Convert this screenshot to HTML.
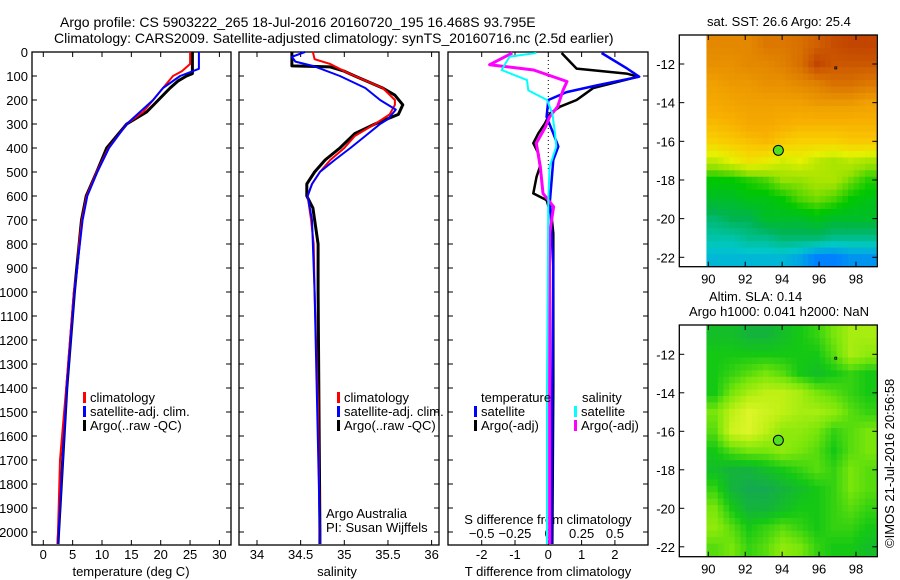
<!DOCTYPE html>
<html><head><meta charset="utf-8">
<style>
html,body{margin:0;padding:0;background:#fff;}
svg{display:block;font-family:"Liberation Sans",sans-serif;}
text{font-size:13px;fill:#000;}
</style></head>
<body>
<svg id="fig" width="900" height="580" viewBox="0 0 900 580" xmlns="http://www.w3.org/2000/svg">
<text x="60" y="27" style="font-size:14px">Argo profile: CS 5903222_265 18-Jul-2016 20160720_195 16.468S 93.795E</text>
<text x="54" y="43" style="font-size:14px">Climatology: CARS2009. Satellite-adjusted climatology: synTS_20160716.nc (2.5d earlier)</text>
<text x="707" y="26">sat. SST: 26.6 Argo: 25.4</text>
<text x="709" y="301">Altim. SLA: 0.14</text>
<text x="689" y="316">Argo h1000: 0.041 h2000: NaN</text>
<text transform="translate(894,548) rotate(-90)">©IMOS 21-Jul-2016 20:56:58</text>
<g id="g"></g>
</svg>
<script>
// ---------- data ----------
const tempDepth = [0,50,80,100,150,200,250,300,400,500,600,700,800,900,1000,1400,1700,2000,2050];
const tempClim  = [25.0,25.0,23.6,22.1,20.4,18.7,17.0,14.2,11.1,9.1,7.4,6.6,6.1,5.8,5.2,3.9,2.85,2.5,2.4];
const tempSatDepth = [0,70,100,150,200,300,400,500,600,700,1000,1400,2000,2050];
const tempSat   = [26.5,26.5,23.3,20.4,18.7,14.2,11.2,9.2,7.5,6.7,5.3,4.0,2.6,2.5];
const tempArgoDepth = [0,90,100,120,150,200,250,300,350,400,500,600,700,1000,1400,2000,2050];
const tempArgo  = [25.4,25.4,24.4,23.0,21.6,19.6,17.6,14.2,12.5,10.8,9.1,7.3,6.5,5.3,4.0,2.6,2.5];

const salDepth = [0,30,50,80,100,150,200,220,260,300,350,400,450,500,550,600,700,800,1000,1500,2050];
const salClim  = [34.64,34.66,34.84,35.0,35.12,35.44,35.58,35.58,35.52,35.35,35.12,35.0,34.84,34.72,34.63,34.58,34.62,34.65,34.66,34.70,34.72];
const salSatDepth = [0,20,40,60,100,150,200,240,280,300,350,400,450,500,550,600,700,1000,2000,2050];
const salSat   = [34.55,34.4,34.44,34.66,34.95,35.24,35.41,35.59,35.5,35.41,35.24,35.07,34.89,34.72,34.63,34.58,34.63,34.66,34.72,34.72];
const salArgoDepth = [0,58,62,80,100,150,180,220,260,300,340,400,450,500,550,600,650,800,1000,2000,2050];
const salArgo  = [34.4,34.4,34.84,35.0,35.12,35.44,35.58,35.67,35.62,35.35,35.12,34.95,34.78,34.66,34.57,34.57,34.64,34.70,34.70,34.72,34.72];

const tdSatDepth = [4,69,103,139,167,200,270,339,394,450,617,894,1400,2050];
const tdSat  = [1.6,2.37,2.73,1.46,0.55,0.0,-0.05,0.15,0.3,0.15,0.05,0.15,0.12,0.1];
const tdArgoDepth = [4,69,90,103,150,180,200,228,256,297,339,380,422,478,519,589,617,686,756,1400,2050];
const tdArgo = [0.4,0.85,2.35,2.7,1.35,1.05,0.85,0.35,0.05,-0.1,-0.3,-0.45,-0.3,-0.25,-0.35,-0.45,-0.05,0.1,0.15,0.15,0.12];
const sdSatDepth = [4,19,75,117,160,200,256,339,394,478,617,1400,2050];
const sdSat  = [-0.09,-0.29,-0.35,-0.16,-0.15,-0.01,0.03,0.05,0.06,0.01,0.0,-0.01,-0.01];
const sdArgoDepth = [4,53,75,123,160,228,270,311,380,478,589,645,756,1400,2050];
const sdArgo = [-0.27,-0.44,-0.11,0.14,0.11,0.07,0.01,-0.02,-0.09,-0.06,-0.04,0.04,0.01,0.01,0.01];

const depthTicks = [0,100,200,300,400,500,600,700,800,900,1000,1100,1200,1300,1400,1500,1600,1700,1800,1900,2000];
const tempTicks = [0,5,10,15,20,25,30];
const salTicks = [34,34.5,35,35.5,36];
const tdTicks = [-2,-1,0,1,2];
const sdTicks = [-0.5,-0.25,0,0.25,0.5];
const latTicks = [-12,-14,-16,-18,-20,-22];
const lonTicks = [90,92,94,96,98];

// SST grid: rows from lat -10.5 southward (1 deg), cols lon 89.9..99.1
const sstRow0 = [27.0,27.0,27.0,27.2,27.2,27.3,27.5,27.7,27.8,27.8];
const sstRow1 = [26.9,26.9,27.0,27.0,27.1,27.3,27.8,27.6,27.6,27.6];
const sstRow2 = [26.7,26.8,26.8,26.9,26.9,27.0,27.1,27.3,27.3,27.2];
const sstRow3 = [26.5,26.6,26.7,26.7,26.7,26.7,26.8,26.8,26.8,26.7];
const sstRow4 = [26.2,26.3,26.5,26.5,26.4,26.3,26.3,26.3,26.3,26.3];
const sstRow5 = [25.9,26.0,26.1,26.2,26.0,25.9,25.9,25.9,26.0,26.0];
const sstRow6 = [25.3,25.5,25.7,25.6,25.4,25.5,25.3,25.2,25.3,25.2];
const sstRow7 = [24.7,24.7,24.8,24.9,25.1,25.1,25.2,25.2,25.0,24.8];
const sstRow8 = [24.5,24.5,24.6,24.6,24.7,24.9,25.0,24.9,24.7,24.6];
const sstRow9 = [24.2,24.3,24.3,24.5,24.5,24.5,24.6,24.5,24.5,24.5];
const sstRow10= [24.0,24.0,24.1,24.1,24.2,24.2,24.2,24.1,24.1,24.1];
const sstRow11= [23.8,23.8,23.8,23.8,23.8,23.7,23.5,23.5,23.6,23.6];
const sstGrid = [sstRow0,sstRow1,sstRow2,sstRow3,sstRow4,sstRow5,sstRow6,sstRow7,sstRow8,sstRow9,sstRow10,sstRow11];

const slaRow0 = [0.09,0.09,0.08,0.08,0.09,0.10,0.11,0.13,0.15,0.15];
const slaRow1 = [0.10,0.10,0.10,0.10,0.10,0.10,0.10,0.12,0.15,0.14];
const slaRow2 = [0.10,0.11,0.12,0.13,0.12,0.10,0.09,0.10,0.11,0.10];
const slaRow3 = [0.10,0.13,0.15,0.16,0.16,0.15,0.13,0.12,0.11,0.10];
const slaRow4 = [0.13,0.16,0.18,0.17,0.16,0.15,0.15,0.14,0.12,0.11];
const slaRow5 = [0.12,0.17,0.18,0.16,0.14,0.14,0.13,0.11,0.12,0.13];
const slaRow6 = [0.10,0.12,0.13,0.13,0.14,0.13,0.12,0.10,0.12,0.13];
const slaRow7 = [0.09,0.08,0.08,0.09,0.10,0.11,0.12,0.11,0.13,0.12];
const slaRow8 = [0.11,0.08,0.07,0.07,0.08,0.09,0.10,0.11,0.13,0.12];
const slaRow9 = [0.13,0.10,0.08,0.08,0.09,0.10,0.10,0.11,0.12,0.11];
const slaRow10= [0.14,0.12,0.10,0.11,0.12,0.11,0.10,0.11,0.11,0.10];
const slaRow11= [0.12,0.13,0.11,0.12,0.14,0.13,0.11,0.10,0.10,0.09];
const slaGrid = [slaRow0,slaRow1,slaRow2,slaRow3,slaRow4,slaRow5,slaRow6,slaRow7,slaRow8,slaRow9,slaRow10,slaRow11];

const argoLon = 93.795, argoLat = -16.468;

// ---------- helpers ----------
const NS="http://www.w3.org/2000/svg";
const G=document.getElementById('g');
function mk(tag,attrs,parent){const e=document.createElementNS(NS,tag);for(const k in attrs)e.setAttribute(k,attrs[k]);(parent||G).appendChild(e);return e;}
const yD = d => 52 + d*0.24;
const TOP=52, BOT=545;

function frame(x0,x1,y0,y1,name){
  const r=mk('rect',{x:x0,y:y0,width:x1-x0,height:y1-y0,fill:'none',stroke:'#000','stroke-width':1.3});
  
  
}
function line(xs,ys,color,w,name){
  let d='';for(let i=0;i<xs.length;i++)d+=(i?'L':'M')+xs[i].toFixed(1)+','+ys[i].toFixed(1);
  const p=mk('path',{d:d,fill:'none',stroke:color,'stroke-width':w,'stroke-linejoin':'round'});
  
  
}
function txt(x,y,s,anchor,name){
  const t=mk('text',{x:x,y:y,'text-anchor':anchor||'start'});t.textContent=s;
  
  
  return t;
}
function xticks(x0,x1,vals,fx,name,labels){
  vals.forEach((v,i)=>{const x=fx(v);
    mk('line',{x1:x,x2:x,y1:BOT,y2:BOT-5,stroke:'#000'});
    mk('line',{x1:x,x2:x,y1:TOP,y2:TOP+5,stroke:'#000'});
    if(labels) txt(x,BOT+14,labels[i],'middle',name+'-tick-label');
  });
}
function yticksPanel(x0,x1){
  depthTicks.forEach(d=>{const y=yD(d);
    mk('line',{x1:x0,x2:x0+5,y1:y,y2:y,stroke:'#000'});
    mk('line',{x1:x1,x2:x1-5,y1:y,y2:y,stroke:'#000'});});
}

// ---------- panel 1 temperature ----------
const fT = v => 43.3 + v*5.87;
frame(32,231,TOP,BOT,'temperature-axes');
yticksPanel(32,231);
depthTicks.forEach(d=>txt(28,yD(d)+5,String(d),'end','depth-tick-label'));
xticks(32,231,tempTicks,fT,'temperature',tempTicks.map(String));
txt(131,576,'temperature (deg C)','middle','temperature-axis-title');
line(tempArgo.map(fT),tempArgoDepth.map(yD),'#000',3,'temp-argo-line');
line(tempClim.map(fT),tempDepth.map(yD),'#f00',2,'temp-climatology-line');
line(tempSat.map(fT),tempSatDepth.map(yD),'#00f',2,'temp-satellite-line');

// ---------- panel 2 salinity ----------
const fS = v => 257 + (v-34)*87.3;
frame(239,439,TOP,BOT,'salinity-axes');
yticksPanel(239,439);
xticks(239,439,salTicks,fS,'salinity',salTicks.map(String));
txt(337,576,'salinity','middle','salinity-axis-title');
line(salArgo.map(fS),salArgoDepth.map(yD),'#000',3,'sal-argo-line');
line(salClim.map(fS),salDepth.map(yD),'#f00',2,'sal-climatology-line');
line(salSat.map(fS),salSatDepth.map(yD),'#00f',2,'sal-satellite-line');
txt(326,518,'Argo Australia','start','credit-argo-australia');
txt(326,532,'PI: Susan Wijffels','start','credit-pi');

// legends panels 1&2
function legend(x,y,items,prefix){
  items.forEach((it,i)=>{
    const r=mk('rect',{x:x,y:y+i*14-10,width:3,height:11,fill:it[1]});
    
    
    txt(x+7,y+i*14,it[0],'start',prefix+'-legend-entry');
  });
}
const legItems=[['climatology','#f00'],['satellite-adj. clim.','#00f'],['Argo(..raw -QC)','#000']];
legend(83,402,legItems,'temperature');
legend(337,402,legItems,'salinity');

// ---------- panel 3 differences ----------
const fTD = v => 548.3 + v*33.3;
const fSD = v => 548.3 + v*133.3;
frame(448,648,TOP,BOT,'difference-axes');
yticksPanel(448,648);
xticks(448,648,tdTicks,fTD,'t-difference',tdTicks.map(String));
sdTicks.forEach(v=>txt(fSD(v),BOT-7,String(v).replace('-','−'),'middle','s-difference-tick-label'));
mk('line',{x1:548.3,x2:548.3,y1:TOP,y2:170,stroke:'#000','stroke-dasharray':'1,3'});
txt(548,576,'T difference from climatology','middle','t-difference-axis-title');
txt(548,524,'S difference from climatology','middle','s-difference-axis-title');
line(tdArgo.map(fTD),tdArgoDepth.map(yD),'#000',2.5,'tdiff-argo-line');
line(tdSat.map(fTD),tdSatDepth.map(yD),'#00f',2.5,'tdiff-satellite-line');
line(sdArgo.map(fSD),sdArgoDepth.map(yD),'#f0f',3,'sdiff-argo-line');
line(sdSat.map(fSD),sdSatDepth.map(yD),'#0ff',2,'sdiff-satellite-line');
txt(481,402,'temperature','start','temp-diff-legend-heading');
txt(582,402,'salinity','start','sal-diff-legend-heading');
legend(474,416,[['satellite','#00f'],['Argo(-adj)','#000']],'temp-diff');
legend(574,416,[['satellite','#0ff'],['Argo(-adj)','#f0f']],'sal-diff');

// ---------- maps ----------
function lerpColor(stops,v){
  if(v<=stops[0][0])return stops[0][1];
  for(let i=1;i<stops.length;i++){if(v<=stops[i][0]){const a=stops[i-1],b=stops[i],t=(v-a[0])/(b[0]-a[0]);
    return a[1].map((c,k)=>Math.round(c+(b[1][k]-c)*t));}}
  return stops[stops.length-1][1];
}
const sstStops=[[23.5,[0,130,255]],[23.9,[0,200,200]],[24.3,[0,180,80]],[24.7,[0,200,0]],[25.1,[150,225,0]],[25.5,[230,240,0]],[25.9,[248,208,0]],[26.3,[248,176,0]],[26.7,[240,160,0]],[27.1,[224,128,0]],[27.5,[208,96,0]],[27.9,[190,60,0]]];
const slaStops=[[0.07,[20,170,80]],[0.10,[20,200,20]],[0.13,[120,230,10]],[0.16,[190,240,20]],[0.18,[220,245,40]]];

function map(top,bot,grid,stops,name){
  const x0=679.3,x1=877.3;
  const fLon=v=>708.3+(v-90)*18.46;
  const latRef = top<100 ? 64 : 354.3, sc = top<100 ? 19.33 : 19.25;
  const fLat=v=>latRef+(-12-v)*sc;
  const cells=mk('g',{});
  
  
  const nr=grid.length,nc=grid[0].length;
  const lon0=89.9,lon1=99.1,lat0=-10.5,lat1=-22.5;
  const sub=3;
  for(let r=0;r<nr*sub;r++)for(let c=0;c<nc*sub;c++){
    // sample grid at sub-cell centre (bilinear between cell centres)
    const fr=Math.min(nr-1,Math.max(0,(r+0.5)/sub-0.5)), fc=Math.min(nc-1,Math.max(0,(c+0.5)/sub-0.5));
    const r0=Math.floor(fr),c0=Math.floor(fc),r1=Math.min(nr-1,r0+1),c1=Math.min(nc-1,c0+1);
    const tr=fr-r0,tc=fc-c0;
    const v=(grid[r0][c0]*(1-tc)+grid[r0][c1]*tc)*(1-tr)+(grid[r1][c0]*(1-tc)+grid[r1][c1]*tc)*tr;
    const col=lerpColor(stops,v);
    const la=lat0+(lat1-lat0)*r/(nr*sub), la2=lat0+(lat1-lat0)*(r+1)/(nr*sub);
    const lo=lon0+(lon1-lon0)*c/(nc*sub), lo2=lon0+(lon1-lon0)*(c+1)/(nc*sub);
    const x=fLon(lo),y=Math.max(top,fLat(la));
    const cell=mk('rect',{x:x.toFixed(2),y:y.toFixed(2),width:(fLon(lo2)-x+0.4).toFixed(2),height:(Math.min(bot,fLat(la2))-y+0.4).toFixed(2),fill:'rgb('+col.join(',')+')'},cells);
  }
  frame(x0,x1,top,bot,name+'-axes');
  latTicks.forEach(v=>{const y=fLat(v);
    mk('line',{x1:x0,x2:x0+5,y1:y,y2:y,stroke:'#000'});
    mk('line',{x1:x1,x2:x1-5,y1:y,y2:y,stroke:'#000'});
    txt(675,y+5,String(v),'end',name+'-lat-tick-label');});
  lonTicks.forEach(v=>{const x=fLon(v);
    mk('line',{x1:x,x2:x,y1:bot,y2:bot-5,stroke:'#000'});
    mk('line',{x1:x,x2:x,y1:top,y2:top+5,stroke:'#000'});
    txt(x,bot+17,String(v),'middle',name+'-lon-tick-label');});
  const dot=mk('circle',{cx:fLon(argoLon),cy:fLat(argoLat),r:5,fill:'#50e020',stroke:'#000','stroke-width':1});
  
  
  mk('rect',{x:fLon(96.85),y:fLat(-12.15),width:2,height:2,fill:'none',stroke:'#000','stroke-width':0.8});
}
map(35,266.7,sstGrid,sstStops,'sst-map');
map(325,556.7,slaGrid,slaStops,'sla-map');
</script>
</body></html>
